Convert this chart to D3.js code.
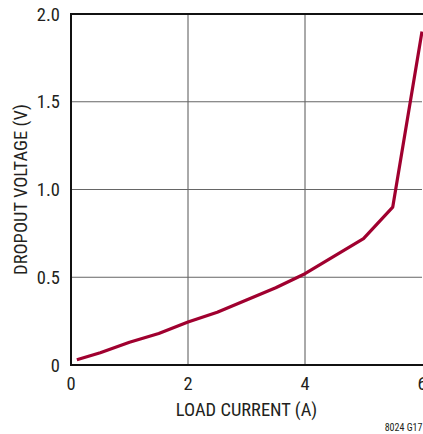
<!DOCTYPE html>
<html><head><meta charset="utf-8">
<script src="https://cdn.jsdelivr.net/npm/d3@7"></script>
<style>
html,body{margin:0;padding:0;background:#fff;}
svg text{font-family:"Liberation Sans Narrow","Roboto Condensed","Roboto",sans-serif;fill:#231f20;}
</style></head>
<body>
<svg id="c" width="423" height="434"></svg>
<script>
const loadCurrent = [0.1, 0.5, 1, 1.5, 2, 2.5, 3, 3.5, 4, 4.5, 5, 5.5, 6];
const dropoutVoltage = [0.03, 0.07, 0.13, 0.18, 0.245, 0.30, 0.37, 0.44, 0.52, 0.62, 0.72, 0.90, 1.90];
const xTicks = [0, 2, 4, 6];
const yTicks = [0, 0.5, 1.0, 1.5, 2.0];
const yTickLabels = ["0", "0.5", "1.0", "1.5", "2.0"];

const svg = d3.select("#c");
const m = {l:71, t:14, r:422, b:365};
const x = d3.scaleLinear().domain([0,6]).range([m.l, m.r]);
const y = d3.scaleLinear().domain([0,2]).range([m.b, m.t]);

// grid
svg.append("g").selectAll("line").data(xTicks.slice(1,-1)).join("line")
  .attr("x1", d=>x(d)).attr("x2", d=>x(d)).attr("y1", m.t).attr("y2", m.b)
  .attr("stroke", "#555").attr("stroke-width", 1);
svg.append("g").selectAll("line").data(yTicks.slice(1,-1)).join("line")
  .attr("x1", m.l).attr("x2", m.r).attr("y1", d=>y(d)).attr("y2", d=>y(d))
  .attr("stroke", "#666").attr("stroke-width", 1);

// curve
const data = loadCurrent.map((v,i)=>({x:v, y:dropoutVoltage[i]}));
svg.append("path").datum(data)
  .attr("d", d3.line().x(d=>x(d.x)).y(d=>y(d.y)))
  .attr("fill","none").attr("stroke","#a0002f").attr("stroke-width",3.2)
  .attr("stroke-linejoin","round");

// border
svg.append("rect").attr("x", m.l).attr("y", m.t).attr("width", m.r-m.l+2).attr("height", m.b-m.t)
  .attr("fill","none").attr("stroke","#111").attr("stroke-width",2);

// tick labels
svg.append("g").selectAll("text").data(yTicks).join("text")
  .attr("x", 60).attr("y", d=>y(d)+6.5).attr("text-anchor","end")
  .attr("font-size", 18.5).text((d,i)=>yTickLabels[i]);
svg.append("g").selectAll("text").data(xTicks).join("text")
  .attr("x", d=>x(d)).attr("y", 390).attr("text-anchor","middle")
  .attr("font-size", 18.5).text(d=>d);

// titles
svg.append("text").attr("x", 246.5).attr("y", 416).attr("text-anchor","middle")
  .attr("font-size", 18.5).text("LOAD CURRENT (A)");
svg.append("text").attr("transform", `translate(27,${(m.t+m.b)/2}) rotate(-90)`)
  .attr("text-anchor","middle").attr("font-size", 18.5).text("DROPOUT VOLTAGE (V)");
svg.append("text").attr("x", 422.5).attr("y", 431).attr("text-anchor","end")
  .attr("font-size", 10).text("8024 G17");
</script>
</body></html>
